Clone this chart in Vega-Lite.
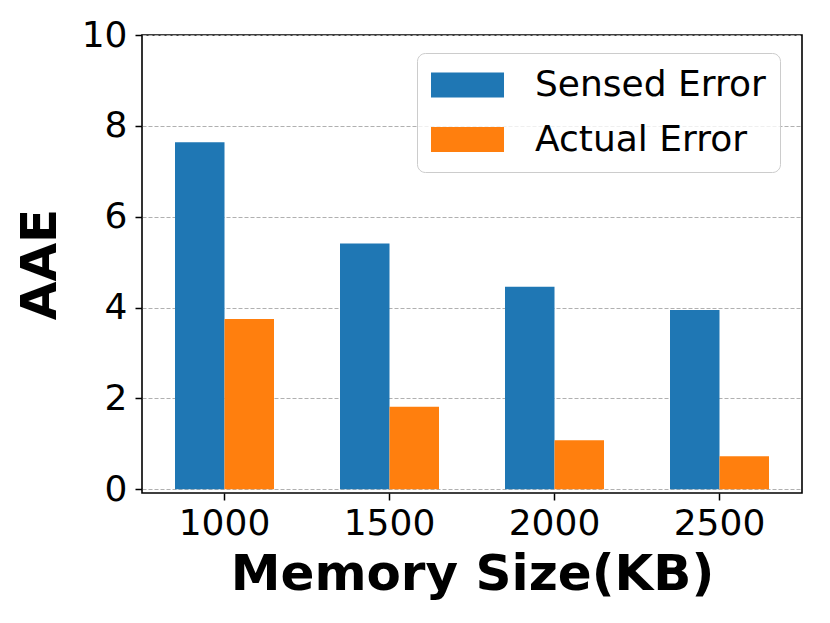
{
  "$schema": "https://vega.github.io/schema/vega-lite/v6.json",
  "width": 660,
  "height": 458,
  "autosize": {"type": "none"},
  "padding": {"left": 142, "top": 35, "right": 28, "bottom": 130},
  "background": "white",
  "config": {
    "font": "DejaVu Sans",
    "view": {"stroke": "black", "strokeWidth": 1.6},
    "axis": {"domain": false}
  },
  "data": {
    "values": [
      {"memory": "1000", "type": "Sensed Error", "aae": 7.64},
      {"memory": "1000", "type": "Actual Error", "aae": 3.75},
      {"memory": "1500", "type": "Sensed Error", "aae": 5.41},
      {"memory": "1500", "type": "Actual Error", "aae": 1.82},
      {"memory": "2000", "type": "Sensed Error", "aae": 4.46},
      {"memory": "2000", "type": "Actual Error", "aae": 1.08},
      {"memory": "2500", "type": "Sensed Error", "aae": 3.95},
      {"memory": "2500", "type": "Actual Error", "aae": 0.73}
    ]
  },
  "mark": {"type": "bar"},
  "encoding": {
    "x": {
      "field": "memory",
      "type": "nominal",
      "sort": ["1000", "1500", "2000", "2500"],
      "scale": {"paddingInner": 0.4, "paddingOuter": 0.2},
      "axis": {
        "title": "Memory Size(KB)",
        "titleFont": "DejaVu Sans",
        "titleFontSize": 50,
        "titleFontWeight": "bold",
        "titleColor": "black",
        "titlePadding": 8,
        "labelAngle": 0,
        "labelFontSize": 36,
        "labelColor": "black",
        "labelPadding": 6,
        "tickSize": 7,
        "tickWidth": 1.5,
        "tickColor": "black",
        "grid": false
      }
    },
    "xOffset": {
      "field": "type",
      "type": "nominal",
      "sort": ["Sensed Error", "Actual Error"],
      "scale": {"paddingInner": 0, "paddingOuter": 0}
    },
    "y": {
      "field": "aae",
      "type": "quantitative",
      "scale": {"domain": [-0.08, 10], "nice": false, "zero": false},
      "axis": {
        "title": "AAE",
        "titleFont": "DejaVu Sans",
        "titleFontSize": 50,
        "titleFontWeight": "bold",
        "titleColor": "black",
        "titlePadding": 16,
        "values": [0, 2, 4, 6, 8, 10],
        "labelFontSize": 36,
        "labelColor": "black",
        "labelPadding": 8,
        "tickSize": 7,
        "tickWidth": 1.5,
        "tickColor": "black",
        "grid": true,
        "gridColor": "#b0b0b0",
        "gridDash": [4, 2],
        "gridWidth": 1.2
      }
    },
    "color": {
      "field": "type",
      "type": "nominal",
      "sort": ["Sensed Error", "Actual Error"],
      "scale": {"domain": ["Sensed Error", "Actual Error"], "range": ["#1f77b4", "#ff7f0e"]},
      "legend": {
        "title": null,
        "orient": "none",
        "legendX": 275,
        "legendY": 18,
        "direction": "vertical",
        "padding": 14,
        "fillColor": "rgba(255,255,255,0.8)",
        "strokeColor": "#cccccc",
        "cornerRadius": 8,
        "symbolType": "M-1,-0.694H3.056V0.694H-1Z",
        "symbolSize": 1296,
        "symbolStrokeWidth": 0,
        "symbolOpacity": 1,
        "labelFontSize": 36,
        "labelColor": "black",
        "labelOffset": 68,
        "labelLimit": 400,
        "rowPadding": 18.5
      }
    }
  }
}
